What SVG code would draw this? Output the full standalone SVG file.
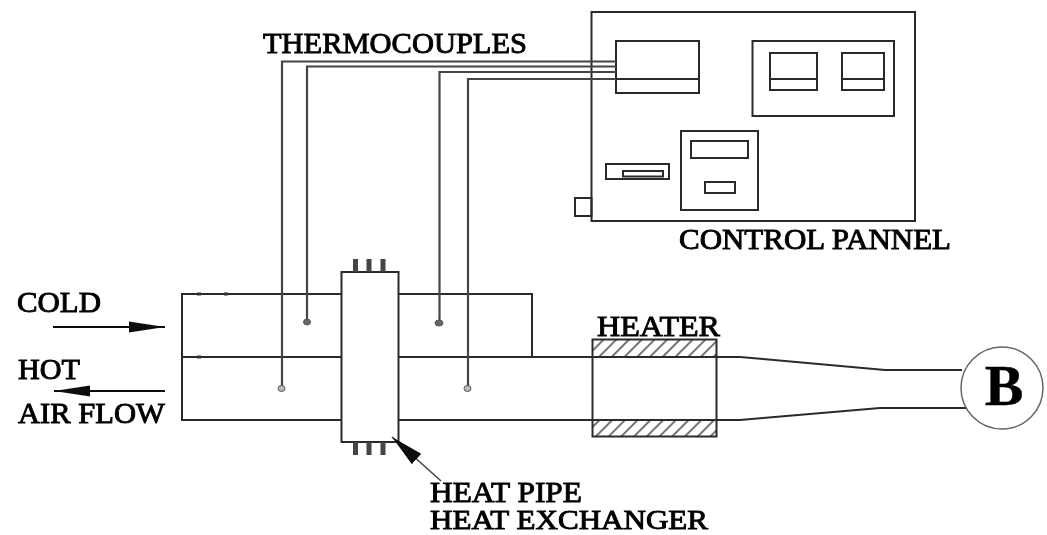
<svg xmlns="http://www.w3.org/2000/svg" width="1047" height="535" viewBox="0 0 1047 535">
<defs>
<filter id="soft" x="-2%" y="-2%" width="104%" height="104%"><feGaussianBlur stdDeviation="0.6"/></filter>
<pattern id="hatch" width="9" height="9" patternUnits="userSpaceOnUse" patternTransform="rotate(45)"><rect width="9" height="9" fill="#fff"/><rect width="1.800" height="9" fill="#666"/></pattern>
<marker id="head" markerUnits="userSpaceOnUse" markerWidth="37" markerHeight="12" refX="36" refY="6" orient="auto"><path d="M0 0.500L36 6L0 11.500Z" fill="#111"/></marker>
<marker id="head2" markerUnits="userSpaceOnUse" markerWidth="34" markerHeight="16" refX="33" refY="8" orient="auto"><path d="M0 1L33 8L0 15Z" fill="#111"/></marker>
</defs>
<style>
.l{fill:none;stroke:#2a2a2a;stroke-width:2}
.w{fill:#fff;stroke:#2a2a2a;stroke-width:2}
.g{fill:none;stroke:#444;stroke-width:2.200}
.t{font-family:"Liberation Serif","Times New Roman",serif;font-size:29px;font-weight:400;fill:#000;stroke:#000;stroke-width:.9}
</style>
<rect width="1047" height="535" fill="#fff"/>
<g filter="url(#soft)">
<g id="duct">
<path class="l" d="M341 294H182V420H341M341 357H182M398 294H532V357M398 357H592M398 420H592"/>
<path d="M197 292.500h4v3h-4zM224 292.500h4v3h-4zM197 355.500h4v3h-4z" fill="#333"/>
</g>
<g id="heat-exchanger">
<rect class="w" x="341.500" y="272" width="57" height="170"/>
<path d="M355.500 259V272M369 259V272M383 259V272M355.500 442V455M369 442V455M383 442V455" fill="none" stroke="#444" stroke-width="5"/>
</g>
<g id="heater">
<rect x="592.500" y="339.500" width="124" height="18" fill="url(#hatch)"/>
<rect x="592.500" y="420" width="124" height="16.500" fill="url(#hatch)"/>
<rect class="l" x="592.500" y="339.500" width="124" height="97"/>
<path class="l" d="M592 357H717M592 420H717"/>
</g>
<g id="blower">
<path class="l" d="M717 357H740L885 370H962M717 420H740L880 408H966"/>
<circle cx="1002" cy="388" r="41" fill="#fff" stroke="#666" stroke-width="1.500"/>
<text class="t" x="1004" y="405" text-anchor="middle" style="font-size:58px;font-weight:700;stroke-width:.3">B</text>
</g>
<g id="control-panel">
<rect class="l" x="591.500" y="12" width="323.500" height="209"/>
<rect class="l" x="575" y="198" width="16.500" height="18"/>
<rect class="l" x="616" y="41" width="83" height="52"/>
<path class="l" d="M616 79H699"/>
<rect class="l" x="752.500" y="41" width="141.500" height="75"/>
<rect class="l" x="770" y="53" width="47" height="37"/>
<path class="l" d="M770 79H817"/>
<rect class="l" x="842" y="53" width="42" height="37"/>
<path class="l" d="M842 79H884"/>
<rect class="l" x="681" y="131" width="77" height="79"/>
<rect class="l" x="691" y="141" width="57" height="17"/>
<rect class="l" x="705" y="182" width="30" height="11"/>
<rect class="l" x="606" y="164" width="63" height="15"/>
<rect class="l" x="623" y="171" width="40" height="5.500"/>
</g>
<g id="connectors">
<path class="g" d="M616 61.500H282V388M616 66.500H307V322M616 72H439.500V323M616 79H468V388"/>
<ellipse cx="281.500" cy="388.500" rx="3.500" ry="3" fill="#bbb" stroke="#555"/>
<ellipse cx="307" cy="322" rx="3.500" ry="3" fill="#666" stroke="#555"/>
<ellipse cx="439" cy="323" rx="4" ry="3" fill="#666" stroke="#555"/>
<ellipse cx="467.500" cy="388.500" rx="3.500" ry="3" fill="#bbb" stroke="#555"/>
<path d="M53 327H165" fill="none" stroke="#111" stroke-width="2" marker-end="url(#head)"/>
<path d="M165 391H54" fill="none" stroke="#111" stroke-width="2" marker-end="url(#head)"/>
<path d="M441 481L392 437" fill="none" stroke="#444" stroke-width="1.600" marker-end="url(#head2)"/>
</g>
<g id="labels">
<text class="t" x="263" y="53" textLength="264" lengthAdjust="spacingAndGlyphs">THERMOCOUPLES</text>
<text class="t" x="679" y="249" textLength="272" lengthAdjust="spacingAndGlyphs">CONTROL PANNEL</text>
<text class="t" x="597" y="336" textLength="123" lengthAdjust="spacingAndGlyphs">HEATER</text>
<text class="t" x="17" y="312" textLength="84" lengthAdjust="spacingAndGlyphs">COLD</text>
<text class="t" x="18" y="379" textLength="62" lengthAdjust="spacingAndGlyphs">HOT</text>
<text class="t" x="18" y="423" textLength="147" lengthAdjust="spacingAndGlyphs">AIR FLOW</text>
<text class="t" x="430" y="502" textLength="152" lengthAdjust="spacingAndGlyphs">HEAT PIPE</text>
<text class="t" x="430" y="529" textLength="278" lengthAdjust="spacingAndGlyphs" style="font-size:27px">HEAT EXCHANGER</text>
</g>
</g>
</svg>
